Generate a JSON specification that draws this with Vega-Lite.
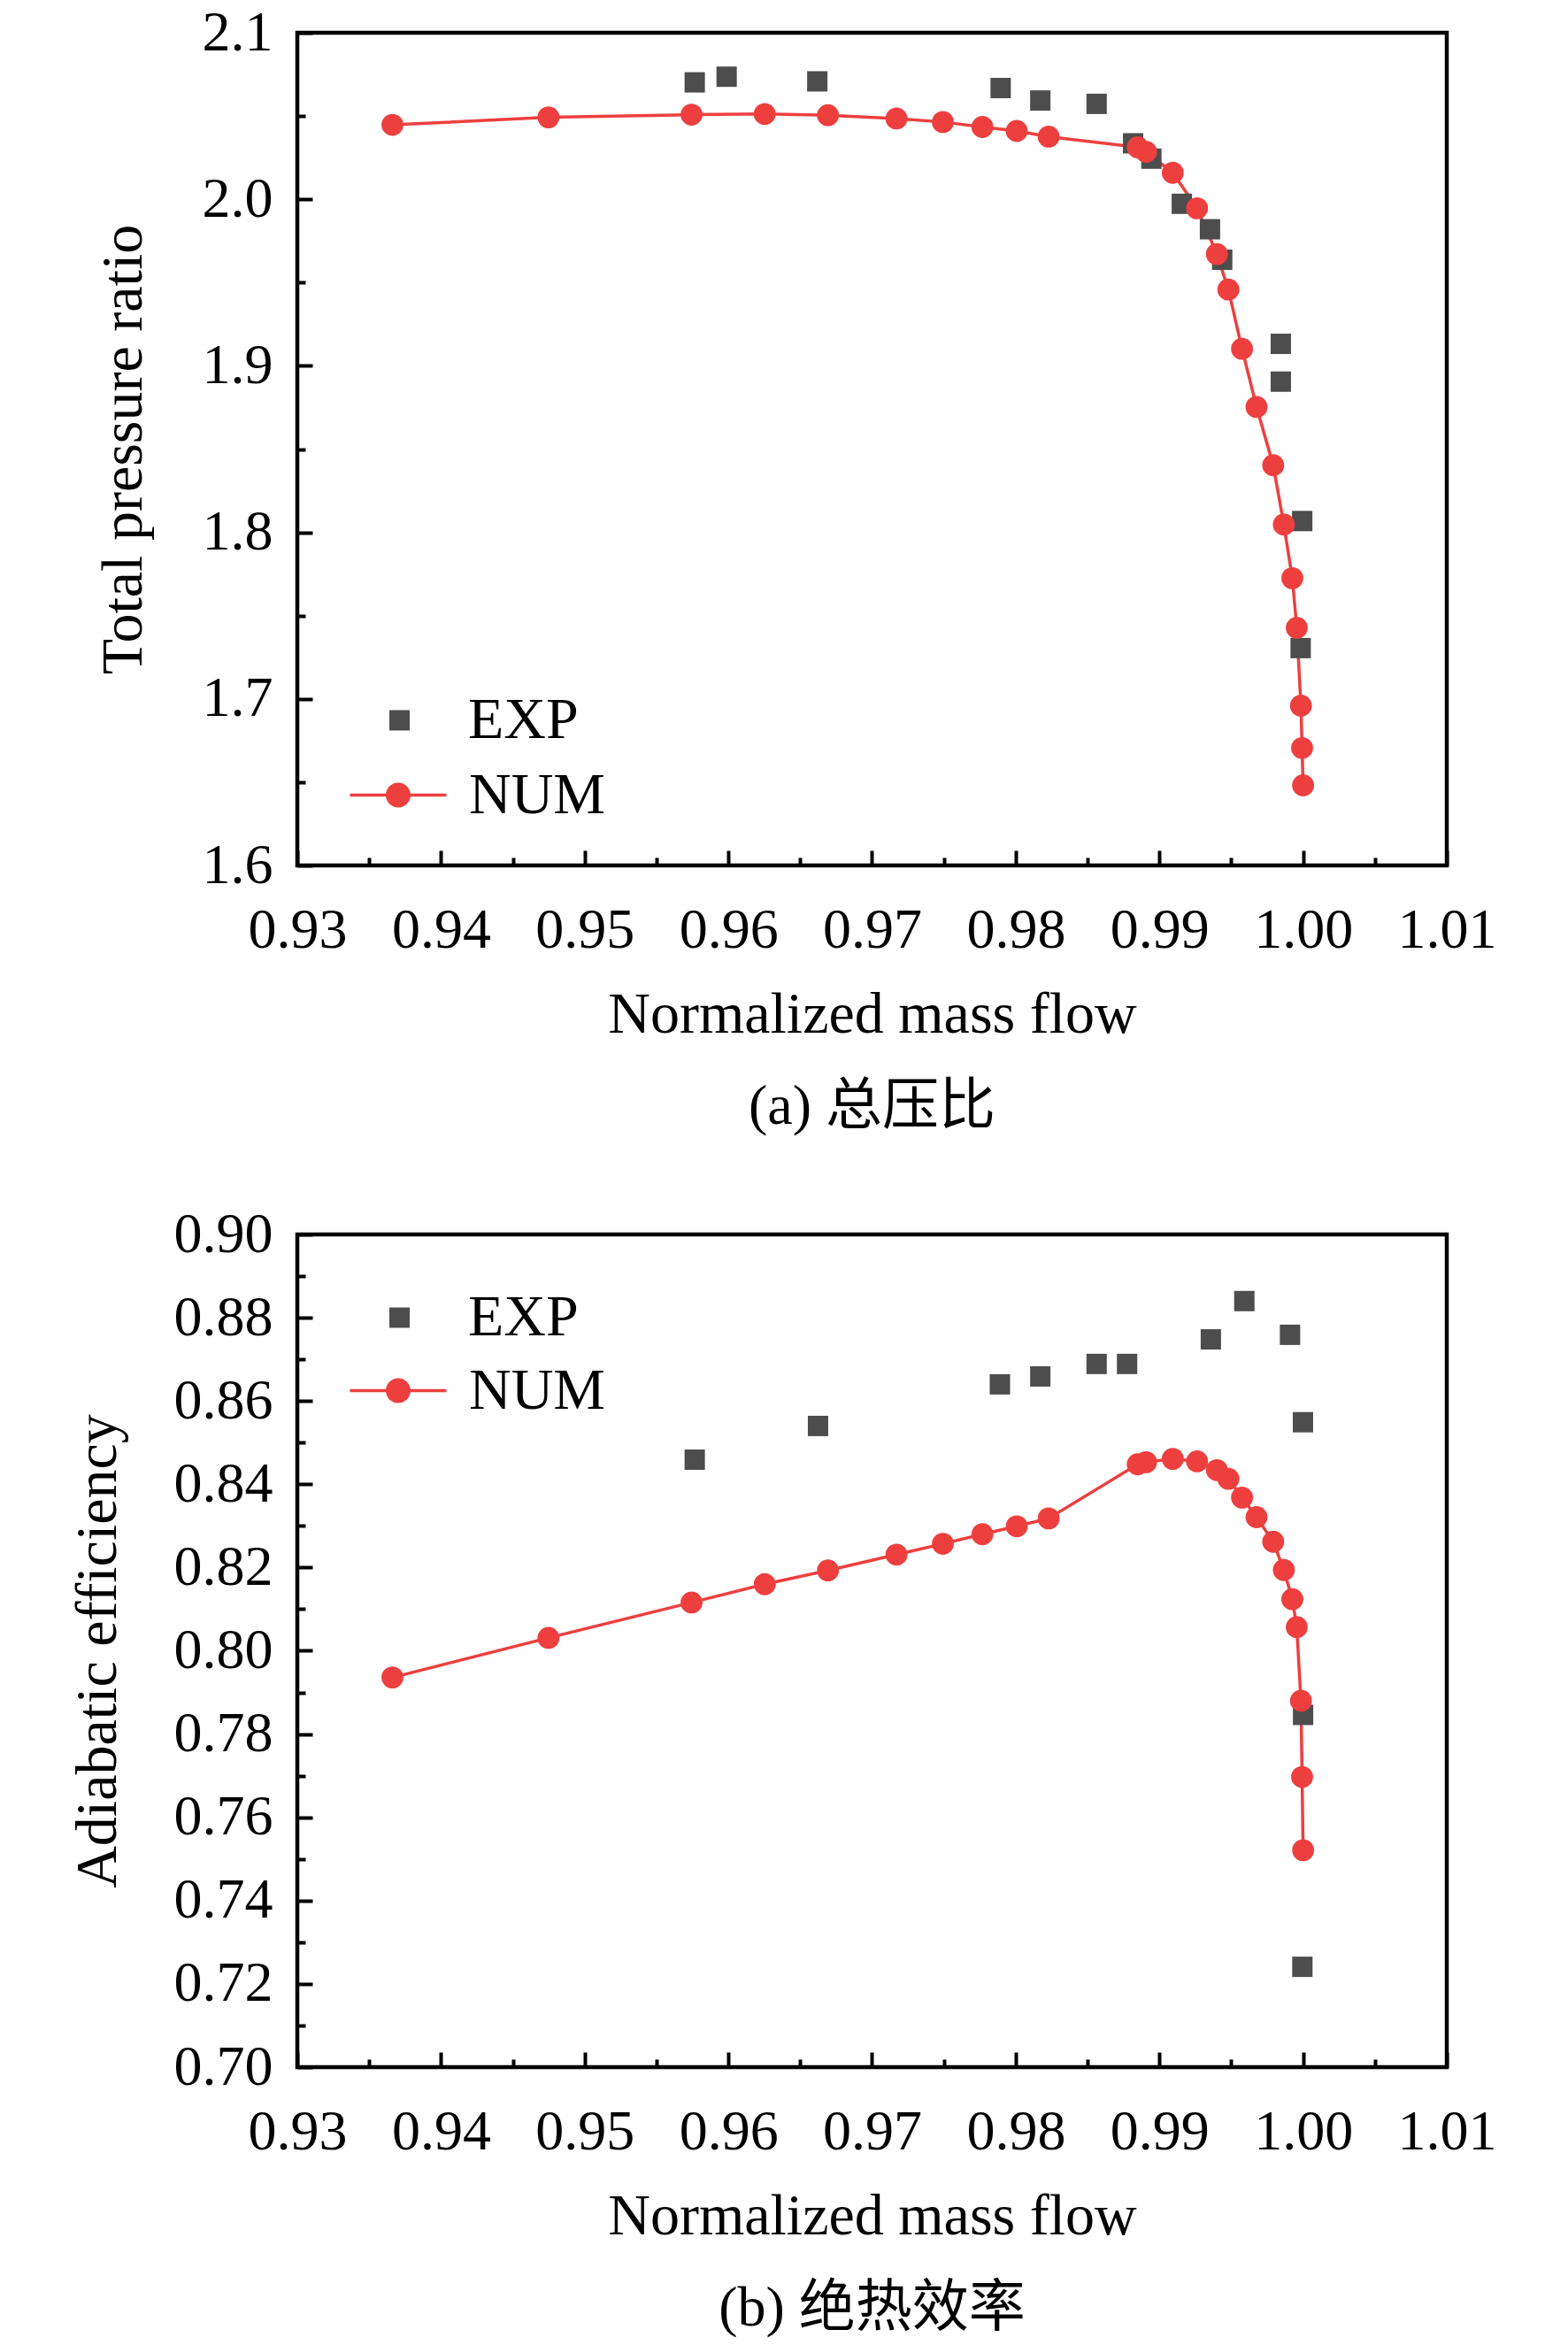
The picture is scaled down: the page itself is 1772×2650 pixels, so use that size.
{
  "$schema": "https://vega.github.io/schema/vega-lite/v6.json",
  "background": "white",
  "padding": {"left": 74, "top": 2, "right": 0, "bottom": 0},
  "config": {
    "view": {"stroke": "black", "strokeWidth": 4.5},
    "font": "Liberation Serif",
    "axis": {
      "labelFont": "Liberation Serif", "titleFont": "Liberation Serif",
      "labelFontSize": 64, "titleFontSize": 66, "titleFontWeight": "normal",
      "labelColor": "black", "titleColor": "black", "tickColor": "black",
      "tickWidth": 4, "domain": false, "grid": false,
      "labelFlush": false, "labelOverlap": false, "labelBound": false
    },
    "title": {"font": "Liberation Serif, Noto Sans CJK SC", "fontSize": 64, "fontWeight": "normal", "color": "black"},
    "legend": {
      "padding": 0, "labelFont": "Liberation Serif", "labelFontSize": 66, "labelColor": "black",
      "symbolStrokeWidth": 0, "symbolOpacity": 1
    },
    "concat": {"spacing": 74}
  },
  "resolve": {
    "scale": {"color": "independent", "fill": "independent"},
    "legend": {"color": "independent", "fill": "independent"}
  },
  "datasets": {
    "pressure": [
      {"flow": 0.95766, "value": 2.0702, "series": "EXP"},
      {"flow": 0.95988, "value": 2.0736, "series": "EXP"},
      {"flow": 0.96619, "value": 2.0708, "series": "EXP"},
      {"flow": 0.97895, "value": 2.0668, "series": "EXP"},
      {"flow": 0.98171, "value": 2.0593, "series": "EXP"},
      {"flow": 0.98563, "value": 2.0573, "series": "EXP"},
      {"flow": 0.98817, "value": 2.0336, "series": "EXP"},
      {"flow": 0.98944, "value": 2.0244, "series": "EXP"},
      {"flow": 0.99156, "value": 1.9973, "series": "EXP"},
      {"flow": 0.99352, "value": 1.9820, "series": "EXP"},
      {"flow": 0.99437, "value": 1.9637, "series": "EXP"},
      {"flow": 0.99845, "value": 1.9132, "series": "EXP"},
      {"flow": 0.99845, "value": 1.8905, "series": "EXP"},
      {"flow": 0.99994, "value": 1.8068, "series": "EXP"},
      {"flow": 0.99983, "value": 1.7305, "series": "EXP"},
      {"flow": 0.93662, "value": 2.0447, "series": "NUM"},
      {"flow": 0.94748, "value": 2.0492, "series": "NUM"},
      {"flow": 0.95744, "value": 2.0508, "series": "NUM"},
      {"flow": 0.96253, "value": 2.0512, "series": "NUM"},
      {"flow": 0.96693, "value": 2.0505, "series": "NUM"},
      {"flow": 0.97170, "value": 2.0485, "series": "NUM"},
      {"flow": 0.97493, "value": 2.0464, "series": "NUM"},
      {"flow": 0.97768, "value": 2.0434, "series": "NUM"},
      {"flow": 0.98007, "value": 2.0410, "series": "NUM"},
      {"flow": 0.98229, "value": 2.0376, "series": "NUM"},
      {"flow": 0.98849, "value": 2.0312, "series": "NUM"},
      {"flow": 0.98907, "value": 2.0285, "series": "NUM"},
      {"flow": 0.99093, "value": 2.0159, "series": "NUM"},
      {"flow": 0.99262, "value": 1.9946, "series": "NUM"},
      {"flow": 0.99400, "value": 1.9671, "series": "NUM"},
      {"flow": 0.99480, "value": 1.9458, "series": "NUM"},
      {"flow": 0.99575, "value": 1.9102, "series": "NUM"},
      {"flow": 0.99676, "value": 1.8753, "series": "NUM"},
      {"flow": 0.99792, "value": 1.8403, "series": "NUM"},
      {"flow": 0.99866, "value": 1.8047, "series": "NUM"},
      {"flow": 0.99925, "value": 1.7725, "series": "NUM"},
      {"flow": 0.99956, "value": 1.7427, "series": "NUM"},
      {"flow": 0.99985, "value": 1.6959, "series": "NUM"},
      {"flow": 0.99993, "value": 1.6705, "series": "NUM"},
      {"flow": 1.00000, "value": 1.6481, "series": "NUM"}
    ],
    "efficiency": [
      {"flow": 0.95766, "value": 0.8459, "series": "EXP"},
      {"flow": 0.96624, "value": 0.8540, "series": "EXP"},
      {"flow": 0.97890, "value": 0.8640, "series": "EXP"},
      {"flow": 0.98171, "value": 0.8659, "series": "EXP"},
      {"flow": 0.98563, "value": 0.8689, "series": "EXP"},
      {"flow": 0.98775, "value": 0.8689, "series": "EXP"},
      {"flow": 0.99358, "value": 0.8748, "series": "EXP"},
      {"flow": 0.99591, "value": 0.8840, "series": "EXP"},
      {"flow": 0.99909, "value": 0.8759, "series": "EXP"},
      {"flow": 0.99999, "value": 0.8549, "series": "EXP"},
      {"flow": 1.00000, "value": 0.7846, "series": "EXP"},
      {"flow": 0.99995, "value": 0.7241, "series": "EXP"},
      {"flow": 0.93662, "value": 0.7936, "series": "NUM"},
      {"flow": 0.94748, "value": 0.8031, "series": "NUM"},
      {"flow": 0.95744, "value": 0.8116, "series": "NUM"},
      {"flow": 0.96253, "value": 0.8160, "series": "NUM"},
      {"flow": 0.96693, "value": 0.8193, "series": "NUM"},
      {"flow": 0.97170, "value": 0.8231, "series": "NUM"},
      {"flow": 0.97493, "value": 0.8257, "series": "NUM"},
      {"flow": 0.97768, "value": 0.8280, "series": "NUM"},
      {"flow": 0.98007, "value": 0.8299, "series": "NUM"},
      {"flow": 0.98229, "value": 0.8318, "series": "NUM"},
      {"flow": 0.98849, "value": 0.8448, "series": "NUM"},
      {"flow": 0.98907, "value": 0.8453, "series": "NUM"},
      {"flow": 0.99093, "value": 0.8461, "series": "NUM"},
      {"flow": 0.99262, "value": 0.8455, "series": "NUM"},
      {"flow": 0.99400, "value": 0.8434, "series": "NUM"},
      {"flow": 0.99480, "value": 0.8413, "series": "NUM"},
      {"flow": 0.99575, "value": 0.8368, "series": "NUM"},
      {"flow": 0.99676, "value": 0.8321, "series": "NUM"},
      {"flow": 0.99792, "value": 0.8262, "series": "NUM"},
      {"flow": 0.99866, "value": 0.8194, "series": "NUM"},
      {"flow": 0.99925, "value": 0.8124, "series": "NUM"},
      {"flow": 0.99956, "value": 0.8057, "series": "NUM"},
      {"flow": 0.99985, "value": 0.7880, "series": "NUM"},
      {"flow": 0.99993, "value": 0.7697, "series": "NUM"},
      {"flow": 1.00000, "value": 0.7521, "series": "NUM"}
    ]
  },
  "vconcat": [
    {
      "width": 1299,
      "height": 941,
      "data": {"name": "pressure"},
      "title": {"text": "(a) 总压比", "orient": "bottom", "anchor": "middle", "frame": "group", "baseline": "alphabetic", "offset": 91},
      "layer": [
        {
          "transform": [{"filter": "datum.series === 'NUM'"}],
          "mark": {"type": "line", "color": "#ee3f3f", "strokeWidth": 3.5},
          "encoding": {
            "x": {"field": "flow", "type": "quantitative",
              "scale": {"domain": [0.93, 1.01], "nice": false, "zero": false},
              "axis": {"orient": "bottom", "values": [0.935, 0.945, 0.955, 0.965, 0.975, 0.985, 0.995, 1.005], "labels": false, "title": null, "tickSize": -9}},
            "y": {"field": "value", "type": "quantitative",
              "scale": {"domain": [1.6, 2.1], "nice": false, "zero": false},
              "axis": {"orient": "left", "values": [1.65, 1.75, 1.85, 1.95, 2.05], "labels": false, "title": null, "tickSize": -9}}
          }
        },
        {
          "transform": [{"filter": "datum.series === 'EXP'"}],
          "mark": {"type": "point", "filled": true, "opacity": 1, "shape": "square", "size": 529},
          "encoding": {
            "x": {"field": "flow", "type": "quantitative",
              "scale": {"domain": [0.93, 1.01], "nice": false, "zero": false},
              "axis": {"orient": "bottom", "values": [0.93, 0.94, 0.95, 0.96, 0.97, 0.98, 0.99, 1.0, 1.01], "format": ".2f", "tickSize": -17, "labelPadding": 58, "title": "Normalized mass flow", "titlePadding": 83, "titleBaseline": "alphabetic"}},
            "y": {"field": "value", "type": "quantitative",
              "scale": {"domain": [1.6, 2.1], "nice": false, "zero": false},
              "axis": {"orient": "left", "values": [1.6, 1.7, 1.8, 1.9, 2.0, 2.1], "format": ".1f", "tickSize": -17, "labelPadding": 45, "title": "Total pressure ratio", "titlePadding": 69, "titleBaseline": "alphabetic"}},
            "color": {"field": "series", "type": "nominal",
              "scale": {"domain": ["EXP"], "range": ["#4d4d4d"]},
              "legend": {"orient": "none", "legendX": 82.5, "legendY": 744, "title": null,
                "symbolType": "square", "symbolSize": 529, "labelOffset": 44.5}}
          }
        },
        {
          "transform": [{"filter": "datum.series === 'NUM'"}],
          "mark": {"type": "point", "filled": true, "opacity": 1, "shape": "circle", "size": 616},
          "encoding": {
            "x": {"field": "flow", "type": "quantitative",
              "scale": {"domain": [0.93, 1.01], "nice": false, "zero": false}, "axis": null},
            "y": {"field": "value", "type": "quantitative",
              "scale": {"domain": [1.6, 2.1], "nice": false, "zero": false}, "axis": null},
            "fill": {"field": "series", "type": "nominal",
              "scale": {"domain": ["NUM"], "range": ["#ee3f3f"]},
              "legend": {"orient": "none", "legendX": 59.5, "legendY": 807, "title": null,
                "symbolType": "M-1,-0.032H-0.25V0.032H-1Z M0.25,-0.032H1V0.032H0.25Z M0,-0.257A0.257,0.257 0 1,1 0,0.257A0.257,0.257 0 1,1 0,-0.257Z",
                "symbolSize": 11881, "labelOffset": 25.5}}
          }
        }
      ],
      "resolve": {"axis": {"x": "independent", "y": "independent"}}
    },
    {
      "width": 1299,
      "height": 941,
      "data": {"name": "efficiency"},
      "title": {"text": "(b) 绝热效率", "orient": "bottom", "anchor": "middle", "frame": "group", "baseline": "alphabetic", "offset": 91},
      "layer": [
        {
          "transform": [{"filter": "datum.series === 'NUM'"}],
          "mark": {"type": "line", "color": "#ee3f3f", "strokeWidth": 3.5},
          "encoding": {
            "x": {"field": "flow", "type": "quantitative",
              "scale": {"domain": [0.93, 1.01], "nice": false, "zero": false},
              "axis": {"orient": "bottom", "values": [0.935, 0.945, 0.955, 0.965, 0.975, 0.985, 0.995, 1.005], "labels": false, "title": null, "tickSize": -9}},
            "y": {"field": "value", "type": "quantitative",
              "scale": {"domain": [0.7, 0.9], "nice": false, "zero": false},
              "axis": {"orient": "left", "values": [0.71, 0.73, 0.75, 0.77, 0.79, 0.81, 0.83, 0.85, 0.87, 0.89], "labels": false, "title": null, "tickSize": -9}}
          }
        },
        {
          "transform": [{"filter": "datum.series === 'EXP'"}],
          "mark": {"type": "point", "filled": true, "opacity": 1, "shape": "square", "size": 529},
          "encoding": {
            "x": {"field": "flow", "type": "quantitative",
              "scale": {"domain": [0.93, 1.01], "nice": false, "zero": false},
              "axis": {"orient": "bottom", "values": [0.93, 0.94, 0.95, 0.96, 0.97, 0.98, 0.99, 1.0, 1.01], "format": ".2f", "tickSize": -17, "labelPadding": 58, "title": "Normalized mass flow", "titlePadding": 83, "titleBaseline": "alphabetic"}},
            "y": {"field": "value", "type": "quantitative",
              "scale": {"domain": [0.7, 0.9], "nice": false, "zero": false},
              "axis": {"orient": "left", "values": [0.7, 0.72, 0.74, 0.76, 0.78, 0.8, 0.82, 0.84, 0.86, 0.88, 0.9], "format": ".2f", "tickSize": -17, "labelPadding": 45, "title": "Adiabatic efficiency", "titlePadding": 66, "titleBaseline": "alphabetic"}},
            "color": {"field": "series", "type": "nominal",
              "scale": {"domain": ["EXP"], "range": ["#4d4d4d"]},
              "legend": {"orient": "none", "legendX": 82.5, "legendY": 61, "title": null,
                "symbolType": "square", "symbolSize": 529, "labelOffset": 44.5}}
          }
        },
        {
          "transform": [{"filter": "datum.series === 'NUM'"}],
          "mark": {"type": "point", "filled": true, "opacity": 1, "shape": "circle", "size": 616},
          "encoding": {
            "x": {"field": "flow", "type": "quantitative",
              "scale": {"domain": [0.93, 1.01], "nice": false, "zero": false}, "axis": null},
            "y": {"field": "value", "type": "quantitative",
              "scale": {"domain": [0.7, 0.9], "nice": false, "zero": false}, "axis": null},
            "fill": {"field": "series", "type": "nominal",
              "scale": {"domain": ["NUM"], "range": ["#ee3f3f"]},
              "legend": {"orient": "none", "legendX": 59.5, "legendY": 122, "title": null,
                "symbolType": "M-1,-0.032H-0.25V0.032H-1Z M0.25,-0.032H1V0.032H0.25Z M0,-0.257A0.257,0.257 0 1,1 0,0.257A0.257,0.257 0 1,1 0,-0.257Z",
                "symbolSize": 11881, "labelOffset": 25.5}}
          }
        }
      ],
      "resolve": {"axis": {"x": "independent", "y": "independent"}}
    }
  ]
}
